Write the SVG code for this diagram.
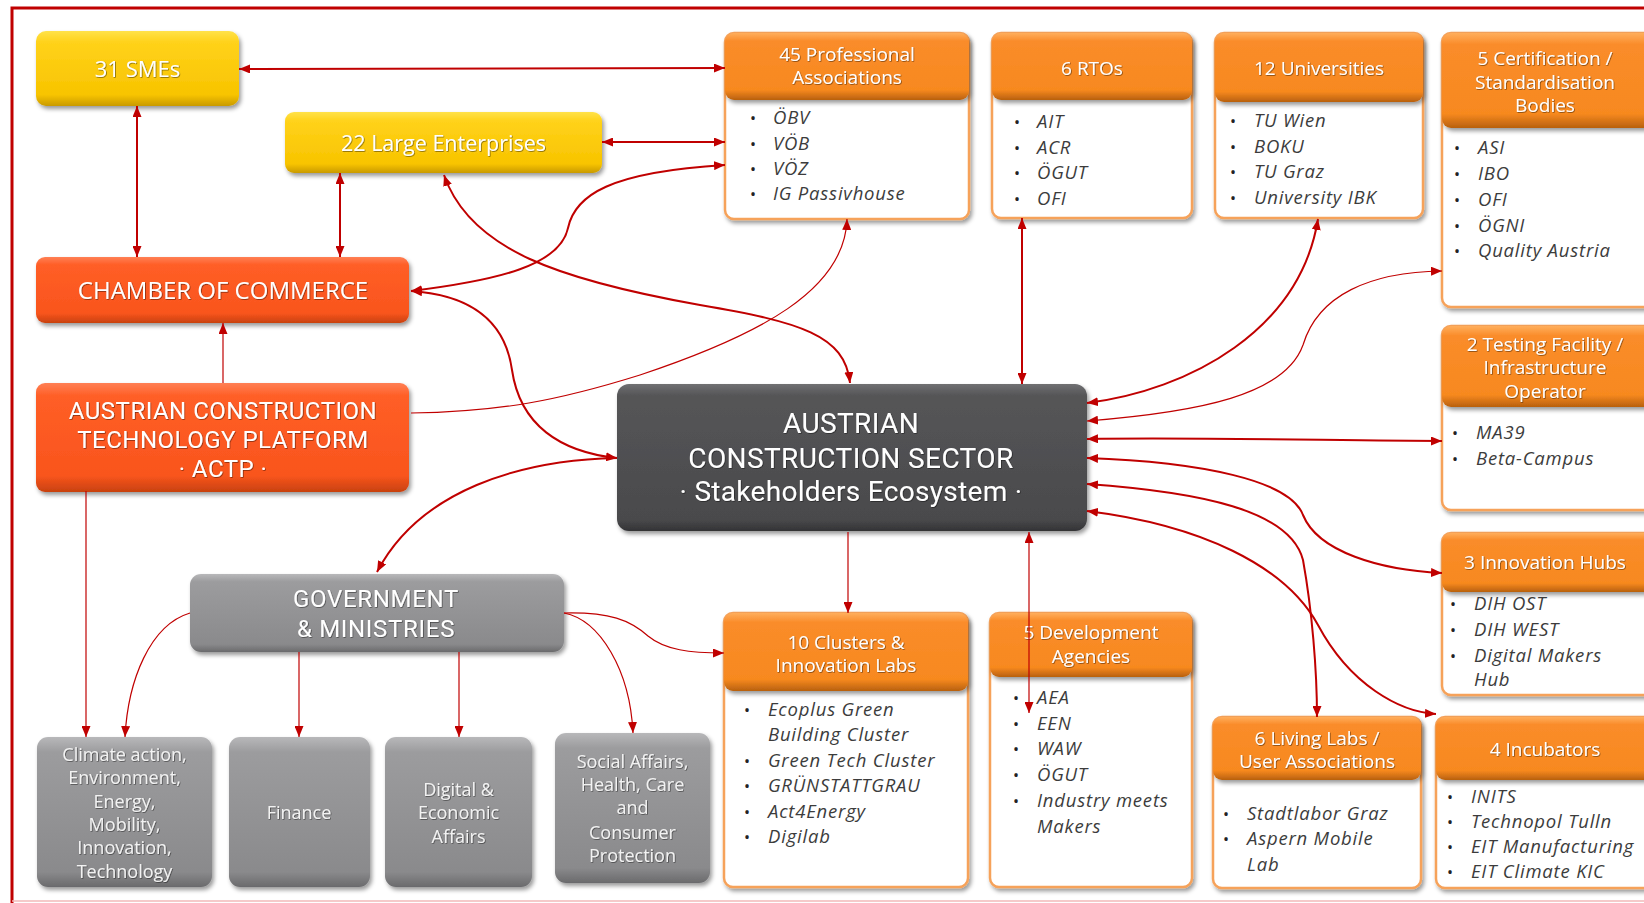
<svg xmlns="http://www.w3.org/2000/svg" width="1644" height="903" viewBox="0 0 1644 903">
<defs>
<style>
.t{font-family:"Open Sans","Liberation Sans",sans-serif;fill:#fff;text-anchor:middle;filter:url(#ts)}
.r{font-family:Roboto,"Open Sans",sans-serif}
.h{font-size:19px}
.m{font-size:18px;fill:#f2f2f2}
.it{font-family:"Open Sans","Liberation Sans",sans-serif;font-style:italic;font-size:18.5px;letter-spacing:0.8px;fill:#3c3c3c}
.bu{font-family:"Open Sans","Liberation Sans",sans-serif;font-size:16px;fill:#222}
.body{fill:#fff;stroke:#F6A25A;stroke-width:2.5;filter:url(#sh)}
.hd{fill:url(#hdr);filter:url(#sh)}
.c{fill:none;stroke:#C00000;stroke-width:2}
.c1{fill:none;stroke:#C00000;stroke-width:1.2}
.ar{marker-end:url(#a)}
.ab{marker-start:url(#a);marker-end:url(#a)}
</style>
<marker id="a" markerUnits="userSpaceOnUse" markerWidth="11" markerHeight="9" refX="11" refY="4.5" orient="auto-start-reverse"><path d="M0,0 L11,4.5 L0,9z" fill="#C00000"/></marker>
<filter id="sh" x="-10%" y="-10%" width="125%" height="135%"><feDropShadow dx="2" dy="3" stdDeviation="2" flood-color="#000" flood-opacity="0.4"/></filter>
<filter id="ts" x="-5%" y="-20%" width="110%" height="150%"><feDropShadow dx="0.7" dy="0.7" stdDeviation="0.5" flood-color="#000" flood-opacity="0.55"/></filter>
<linearGradient id="yel" x1="0" y1="0" x2="0" y2="1"><stop offset="0" stop-color="#FFE24A"/><stop offset="0.15" stop-color="#FFD21A"/><stop offset="0.85" stop-color="#F8C400"/><stop offset="1" stop-color="#C99A00"/></linearGradient>
<linearGradient id="org" x1="0" y1="0" x2="0" y2="1"><stop offset="0" stop-color="#FF8055"/><stop offset="0.12" stop-color="#FF5E26"/><stop offset="0.85" stop-color="#F9551D"/><stop offset="1" stop-color="#C8410F"/></linearGradient>
<linearGradient id="hdr" x1="0" y1="0" x2="0" y2="1"><stop offset="0" stop-color="#FFAE5C"/><stop offset="0.12" stop-color="#FA8C2A"/><stop offset="0.85" stop-color="#F7891F"/><stop offset="1" stop-color="#B8600E"/></linearGradient>
<linearGradient id="dg" x1="0" y1="0" x2="0" y2="1"><stop offset="0" stop-color="#707072"/><stop offset="0.08" stop-color="#555557"/><stop offset="0.92" stop-color="#4A4A4C"/><stop offset="1" stop-color="#333335"/></linearGradient>
<linearGradient id="gr" x1="0" y1="0" x2="0" y2="1"><stop offset="0" stop-color="#B8B8BA"/><stop offset="0.1" stop-color="#9C9C9E"/><stop offset="0.9" stop-color="#8A8A8C"/><stop offset="1" stop-color="#6A6A6C"/></linearGradient>
</defs>
<rect width="1644" height="903" fill="#fff"/>
<path d="M12,903 V8 H1644" fill="none" stroke="#C00000" stroke-width="3"/>
<line x1="12" y1="901" x2="1644" y2="901" stroke="#F2B8B8" stroke-width="1.5"/>

<g id="smes">
<rect x="36" y="31" width="203" height="75" rx="10" fill="url(#yel)" filter="url(#sh)"/>
<text class="t" x="137.5" y="77" font-size="22">31 SMEs</text>
</g>
<g id="large-enterprises">
<rect x="285" y="112" width="317" height="61" rx="9" fill="url(#yel)" filter="url(#sh)"/>
<text class="t" x="443.5" y="151" font-size="21.5">22 Large Enterprises</text>
</g>
<g id="chamber">
<rect x="36" y="257" width="373" height="66" rx="9" fill="url(#org)" filter="url(#sh)"/>
<text class="t" x="223" y="299" font-size="24">CHAMBER OF COMMERCE</text>
</g>
<g id="actp">
<rect x="36" y="383" width="373" height="109" rx="9" fill="url(#org)" filter="url(#sh)"/>
<text class="t r" font-size="24" letter-spacing="0.5" x="223" y="419">AUSTRIAN CONSTRUCTION</text>
<text class="t r" font-size="24" letter-spacing="0.5" x="223" y="448">TECHNOLOGY PLATFORM</text>
<text class="t r" font-size="24" letter-spacing="0.5" x="223" y="477">· ACTP ·</text>
</g>
<g id="sector">
<rect x="617" y="384" width="470" height="147" rx="12" fill="url(#dg)" filter="url(#sh)"/>
<text class="t r" font-size="28" letter-spacing="0.4" fill="#eee" x="851" y="433">AUSTRIAN</text>
<text class="t r" font-size="28" letter-spacing="0.4" fill="#eee" x="851" y="468">CONSTRUCTION SECTOR</text>
<text class="t r" font-size="28" letter-spacing="0.3" fill="#ddd" x="851" y="501">· Stakeholders Ecosystem ·</text>
</g>
<g id="government">
<rect x="190" y="574" width="374" height="78" rx="11" fill="url(#gr)" filter="url(#sh)"/>
<text class="t r" font-size="24" letter-spacing="0.7" x="376" y="607">GOVERNMENT</text>
<text class="t r" font-size="24" letter-spacing="0.7" x="376" y="637">&amp; MINISTRIES</text>
</g>
<g id="min-climate">
<rect x="37" y="737" width="175" height="150" rx="11" fill="url(#gr)" filter="url(#sh)"/>
<text class="t m"><tspan x="124.5" y="761">Climate action,</tspan><tspan x="124.5" y="784">Environment,</tspan><tspan x="124.5" y="808">Energy,</tspan><tspan x="124.5" y="831">Mobility,</tspan><tspan x="124.5" y="854">Innovation,</tspan><tspan x="124.5" y="878">Technology</tspan></text>
</g>
<g id="min-finance">
<rect x="229" y="737" width="141" height="150" rx="11" fill="url(#gr)" filter="url(#sh)"/>
<text class="t m" x="299" y="819">Finance</text>
</g>
<g id="min-digital">
<rect x="385" y="737" width="147" height="150" rx="11" fill="url(#gr)" filter="url(#sh)"/>
<text class="t m"><tspan x="458.5" y="796">Digital &amp;</tspan><tspan x="458.5" y="819">Economic</tspan><tspan x="458.5" y="843">Affairs</tspan></text>
</g>
<g id="min-social">
<rect x="555" y="733" width="155" height="150" rx="11" fill="url(#gr)" filter="url(#sh)"/>
<text class="t m"><tspan x="632.5" y="768">Social Affairs,</tspan><tspan x="632.5" y="791">Health, Care</tspan><tspan x="632.5" y="814">and</tspan><tspan x="632.5" y="839">Consumer</tspan><tspan x="632.5" y="862">Protection</tspan></text>
</g>

<g id="professional">
<rect class="body" x="725" y="33" width="244" height="186" rx="9"/>
<rect class="hd" x="725" y="33" width="244" height="67" rx="9"/>
<text class="t h"><tspan x="847" y="61">45 Professional</tspan><tspan x="847" y="84">Associations</tspan></text>
<text class="bu"><tspan x="750" y="124">•</tspan><tspan x="750" y="150">•</tspan><tspan x="750" y="175">•</tspan><tspan x="750" y="200">•</tspan></text>
<text class="it"><tspan x="773" y="124">ÖBV</tspan><tspan x="773" y="150">VÖB</tspan><tspan x="773" y="175">VÖZ</tspan><tspan x="773" y="200">IG Passivhouse</tspan></text>
</g>
<g id="rtos">
<rect class="body" x="992" y="33" width="200" height="185" rx="9"/>
<rect class="hd" x="992" y="33" width="200" height="67" rx="9"/>
<text class="t h" x="1092" y="75">6 RTOs</text>
<text class="bu"><tspan x="1014" y="128">•</tspan><tspan x="1014" y="154">•</tspan><tspan x="1014" y="179">•</tspan><tspan x="1014" y="205">•</tspan></text>
<text class="it"><tspan x="1037" y="128">AIT</tspan><tspan x="1037" y="154">ACR</tspan><tspan x="1037" y="179">ÖGUT</tspan><tspan x="1037" y="205">OFI</tspan></text>
</g>
<g id="universities">
<rect class="body" x="1215" y="33" width="208" height="185" rx="9"/>
<rect class="hd" x="1215" y="33" width="208" height="69" rx="9"/>
<text class="t h" x="1319" y="75">12 Universities</text>
<text class="bu"><tspan x="1230" y="127">•</tspan><tspan x="1230" y="153">•</tspan><tspan x="1230" y="178">•</tspan><tspan x="1230" y="204">•</tspan></text>
<text class="it"><tspan x="1254" y="127">TU Wien</tspan><tspan x="1254" y="153">BOKU</tspan><tspan x="1254" y="178">TU Graz</tspan><tspan x="1254" y="204">University IBK</tspan></text>
</g>
<g id="certification">
<rect class="body" x="1442" y="33" width="214" height="274" rx="9"/>
<rect class="hd" x="1442" y="33" width="214" height="95" rx="9"/>
<text class="t h"><tspan x="1545" y="65">5 Certification /</tspan><tspan x="1545" y="89">Standardisation</tspan><tspan x="1545" y="112">Bodies</tspan></text>
<text class="bu"><tspan x="1454" y="154">•</tspan><tspan x="1454" y="180">•</tspan><tspan x="1454" y="206">•</tspan><tspan x="1454" y="232">•</tspan><tspan x="1454" y="257">•</tspan></text>
<text class="it"><tspan x="1478" y="154">ASI</tspan><tspan x="1478" y="180">IBO</tspan><tspan x="1478" y="206">OFI</tspan><tspan x="1478" y="232">ÖGNI</tspan><tspan x="1478" y="257">Quality Austria</tspan></text>
</g>
<g id="testing">
<rect class="body" x="1442" y="326" width="214" height="184" rx="9"/>
<rect class="hd" x="1442" y="326" width="214" height="81" rx="9"/>
<text class="t h"><tspan x="1545" y="351">2 Testing Facility /</tspan><tspan x="1545" y="374">Infrastructure</tspan><tspan x="1545" y="398">Operator</tspan></text>
<text class="bu"><tspan x="1452" y="439">•</tspan><tspan x="1452" y="465">•</tspan></text>
<text class="it"><tspan x="1476" y="439">MA39</tspan><tspan x="1476" y="465">Beta-Campus</tspan></text>
</g>
<g id="innovation-hubs">
<rect class="body" x="1442" y="533" width="214" height="162" rx="9"/>
<rect class="hd" x="1442" y="533" width="214" height="59" rx="9"/>
<text class="t h" x="1545" y="569">3 Innovation Hubs</text>
<text class="bu"><tspan x="1450" y="610">•</tspan><tspan x="1450" y="636">•</tspan><tspan x="1450" y="662">•</tspan></text>
<text class="it"><tspan x="1474" y="610">DIH OST</tspan><tspan x="1474" y="636">DIH WEST</tspan><tspan x="1474" y="662">Digital Makers</tspan><tspan x="1474" y="686">Hub</tspan></text>
</g>
<g id="incubators">
<rect class="body" x="1436" y="717" width="220" height="171" rx="9"/>
<rect class="hd" x="1436" y="717" width="220" height="63" rx="9"/>
<text class="t h" x="1545" y="756">4 Incubators</text>
<text class="bu"><tspan x="1447" y="803">•</tspan><tspan x="1447" y="828">•</tspan><tspan x="1447" y="853">•</tspan><tspan x="1447" y="878">•</tspan></text>
<text class="it"><tspan x="1471" y="803">INITS</tspan><tspan x="1471" y="828">Technopol Tulln</tspan><tspan x="1471" y="853">EIT Manufacturing</tspan><tspan x="1471" y="878">EIT Climate KIC</tspan></text>
</g>
<g id="living-labs">
<rect class="body" x="1213" y="717" width="208" height="171" rx="9"/>
<rect class="hd" x="1213" y="717" width="208" height="63" rx="9"/>
<text class="t h"><tspan x="1317" y="745">6 Living Labs /</tspan><tspan x="1317" y="768">User Associations</tspan></text>
<text class="bu"><tspan x="1223" y="820">•</tspan><tspan x="1223" y="845">•</tspan></text>
<text class="it"><tspan x="1247" y="820">Stadtlabor Graz</tspan><tspan x="1247" y="845">Aspern Mobile</tspan><tspan x="1247" y="871">Lab</tspan></text>
</g>
<g id="clusters">
<rect class="body" x="724" y="613" width="244" height="274" rx="9"/>
<rect class="hd" x="724" y="613" width="244" height="78" rx="9"/>
<text class="t h"><tspan x="846" y="649">10 Clusters &amp;</tspan><tspan x="846" y="672">Innovation Labs</tspan></text>
<text class="bu"><tspan x="744" y="716">•</tspan><tspan x="744" y="767">•</tspan><tspan x="744" y="792">•</tspan><tspan x="744" y="818">•</tspan><tspan x="744" y="843">•</tspan></text>
<text class="it"><tspan x="768" y="716">Ecoplus Green</tspan><tspan x="768" y="741">Building Cluster</tspan><tspan x="768" y="767">Green Tech Cluster</tspan><tspan x="768" y="792">GRÜNSTATTGRAU</tspan><tspan x="768" y="818">Act4Energy</tspan><tspan x="768" y="843">Digilab</tspan></text>
</g>
<g id="development">
<rect class="body" x="990" y="613" width="202" height="274" rx="9"/>
<rect class="hd" x="990" y="613" width="202" height="64" rx="9"/>
<text class="t h"><tspan x="1091" y="639">5 Development</tspan><tspan x="1091" y="663">Agencies</tspan></text>
<text class="bu"><tspan x="1013" y="704">•</tspan><tspan x="1013" y="730">•</tspan><tspan x="1013" y="755">•</tspan><tspan x="1013" y="781">•</tspan><tspan x="1013" y="807">•</tspan></text>
<text class="it"><tspan x="1037" y="704">AEA</tspan><tspan x="1037" y="730">EEN</tspan><tspan x="1037" y="755">WAW</tspan><tspan x="1037" y="781">ÖGUT</tspan><tspan x="1037" y="807">Industry meets</tspan><tspan x="1037" y="833">Makers</tspan></text>
</g>

<g id="connectors">
<path class="c ab" d="M239,69 L725,68"/>
<path class="c ab" d="M137,106 L137,257"/>
<path class="c ab" d="M340,173 L340,257"/>
<path class="c ab" d="M602,142 L725,142" stroke-width="2.5"/>
<path class="c ab" d="M411,291 C500,280 560,265 568,228 C575,195 610,172 725,165"/>
<path class="c ab" d="M444,175 C470,250 560,280 700,305 C800,322 845,335 850,383"/>
<path class="c ab" d="M411,291 C470,295 505,320 512,370 C520,425 560,452 617,458"/>
<path class="c1 ar" d="M411,413 C500,412 560,400 640,375 C760,335 845,290 847,219"/>
<path class="c1 ar" d="M223,383 L223,323"/>
<path class="c1 ar" d="M86,491 L86,737"/>
<path class="c ar" d="M617,458 C520,460 420,490 377,572"/>
<path class="c1 ar" d="M190,613 C150,625 128,680 125,737"/>
<path class="c1 ar" d="M299,652 L299,737"/>
<path class="c1 ar" d="M459,652 L459,737"/>
<path class="c1 ar" d="M564,613 C600,620 630,670 633,733"/>
<path class="c1 ar" d="M564,613 C610,612 630,620 648,636 C665,650 690,653 724,653"/>
<path class="c1 ar" d="M848,532 L848,613"/>
<path class="c1 ab" d="M1029,532 L1029,713"/>
<path class="c ab" d="M1022,218 L1022,384"/>
<path class="c ab" d="M1087,403 C1190,390 1300,330 1318,219"/>
<path class="c1 ab" d="M1087,421 C1200,412 1285,395 1303,345 C1318,295 1370,272 1442,271"/>
<path class="c ab" d="M1087,439 C1200,437 1350,441 1442,441"/>
<path class="c ab" d="M1087,458 C1200,462 1290,480 1303,515 C1318,552 1380,570 1442,573"/>
<path class="c ab" d="M1087,484 C1200,492 1290,510 1303,560 C1312,610 1317,670 1317,717"/>
<path class="c ab" d="M1087,511 C1200,525 1285,565 1318,625 C1350,685 1400,712 1436,714"/>
</g>
</svg>
